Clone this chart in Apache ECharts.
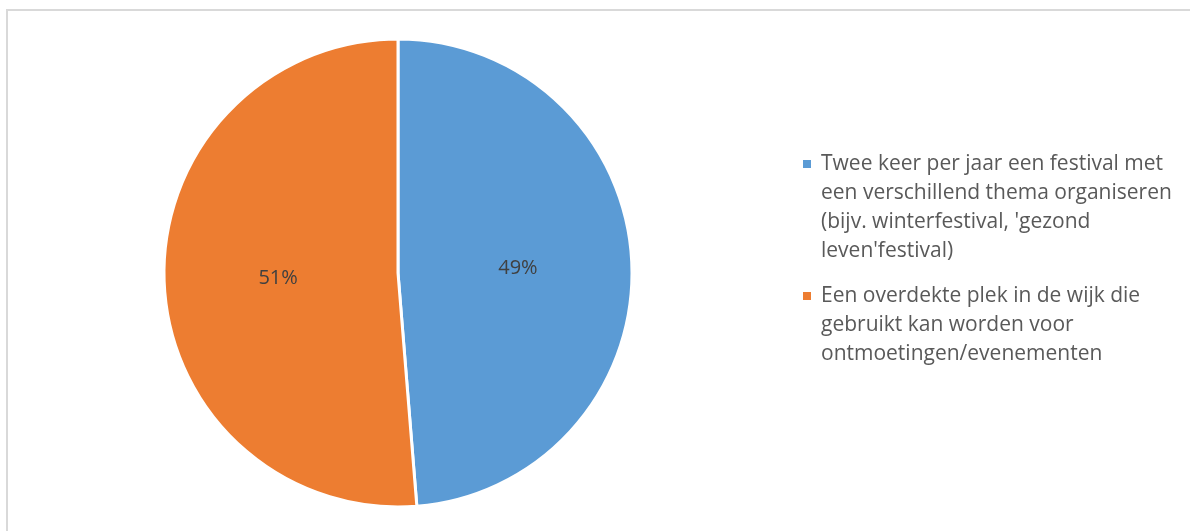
<!DOCTYPE html>
<html>
<head>
<meta charset="utf-8">
<script src="https://cdn.jsdelivr.net/npm/echarts@6/dist/echarts.min.js"></script>
<style>
html,body{margin:0;padding:0;background:#fff;}
#chart{width:1190px;height:531px;}
</style>
</head>
<body>
<div id="chart"></div>
<script>
// ---- data ----
const categories = [
  "Twee keer per jaar een festival met een verschillend thema organiseren (bijv. winterfestival, 'gezond leven'festival)",
  "Een overdekte plek in de wijk die gebruikt kan worden voor ontmoetingen/evenementen"
];
const legendLines = [
  ["Twee keer per jaar een festival met", "een verschillend thema organiseren", "(bijv. winterfestival, 'gezond", "leven'festival)"],
  ["Een overdekte plek in de wijk die", "gebruikt kan worden voor", "ontmoetingen/evenementen"]
];
const values = [19, 20];
const colors = ['#5B9BD5', '#ED7D31'];

// ---- chart ----
const FONT = 'Open Sans';
const LH = 29;
const iconCenters = [164, 296];
const chart = echarts.init(document.getElementById('chart'));

// one legend per item so the marker lines up with the first text line
const legends = categories.map((c, i) => {
  const n = legendLines[i].length;
  return {
    orient: 'vertical',
    left: 803,
    top: iconCenters[i] - (n - 0.5) * LH,
    padding: 0,
    itemWidth: 8, itemHeight: 8,
    icon: 'rect',
    itemStyle: { borderWidth: 0 },
    data: [c],
    formatter: function (name) {
      const k = categories.indexOf(name);
      const pad = new Array(legendLines[k].length - 1).fill(' ');
      return pad.concat(legendLines[k]).join('\n');
    },
    textStyle: { fontFamily: FONT, fontSize: 21, color: '#595959', lineHeight: LH, padding: [0, 0, 0, 5] }
  };
});

chart.setOption({
  animation: false,
  backgroundColor: '#ffffff',
  graphic: [{
    type: 'rect', silent: true,
    shape: { x: 7, y: 10, width: 1400, height: 800 },
    style: { fill: 'none', stroke: '#d9d9d9', lineWidth: 2 }
  }],
  legend: legends,
  series: [{
    type: 'pie',
    center: [398, 273],
    radius: 234,
    startAngle: 90,
    clockwise: true,
    data: categories.map((c, i) => ({ name: c, value: values[i], itemStyle: { color: colors[i] } })),
    itemStyle: { borderColor: '#ffffff', borderWidth: 3 },
    label: {
      show: true, position: 'inside',
      formatter: p => Math.round(p.percent) + '%',
      fontFamily: FONT, fontSize: 20, color: '#404040'
    },
    labelLine: { show: false },
    emphasis: { disabled: true }
  }]
});
</script>
</body>
</html>
